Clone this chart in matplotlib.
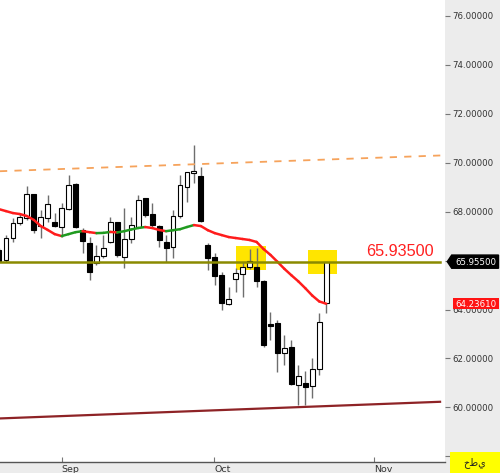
import matplotlib
matplotlib.use("Agg")
import matplotlib.pyplot as plt
import numpy as np
from matplotlib.collections import LineCollection
from matplotlib.patches import Rectangle, Polygon
import matplotlib.transforms as mtransforms

# ---------------- data ----------------
opens  = [66.43, 66.02, 66.92, 67.53, 67.74, 68.72, 67.41, 67.74, 67.57, 67.37,
          68.10, 69.13, 67.25, 66.72, 65.90, 66.18, 66.76, 67.57, 66.14, 66.88,
          67.37, 68.56, 67.90, 67.41, 66.76, 66.55, 67.82, 69.00, 69.58, 69.45,
          66.63, 66.14, 65.41, 64.22, 65.25, 65.45, 65.74, 65.74, 65.16, 63.40,
          63.45, 62.22, 62.46, 60.91, 60.99, 60.87, 61.57, 64.26]
highs  = [66.51, 67.04, 67.74, 67.94, 69.04, 68.72, 68.06, 68.68, 67.94, 68.35,
          69.49, 69.17, 67.33, 66.96, 66.63, 67.04, 67.78, 67.57, 68.14, 67.78,
          68.68, 68.56, 68.35, 67.45, 67.04, 68.06, 69.49, 69.62, 70.72, 69.82,
          66.72, 66.31, 65.53, 64.92, 65.69, 65.94, 66.47, 66.51, 65.20, 63.89,
          63.57, 62.96, 62.75, 61.73, 61.48, 62.01, 63.85, 65.955]
lows   = [65.94, 65.94, 66.76, 67.45, 67.66, 67.12, 66.92, 67.57, 67.37, 66.96,
          68.06, 67.33, 66.31, 65.20, 65.82, 66.10, 66.72, 66.14, 65.69, 66.72,
          67.33, 67.78, 67.33, 66.55, 65.94, 66.10, 67.74, 68.39, 69.17, 67.57,
          65.61, 65.00, 63.98, 64.18, 64.72, 64.52, 65.65, 64.92, 62.46, 62.75,
          61.44, 61.73, 60.91, 60.09, 60.09, 60.38, 61.32, 63.85]
closes = [65.98, 66.92, 67.53, 67.78, 68.72, 67.25, 67.78, 68.31, 67.41, 68.14,
          69.08, 67.37, 66.80, 65.53, 66.18, 66.51, 67.57, 66.23, 66.88, 67.45,
          68.47, 67.86, 67.45, 66.84, 66.51, 67.82, 69.08, 69.62, 69.66, 67.61,
          66.10, 65.37, 64.26, 64.43, 65.49, 65.74, 65.98, 65.16, 62.55, 63.32,
          62.22, 62.42, 60.95, 61.28, 60.83, 61.57, 63.49, 65.955]
ma_values = [68.10, 68.02, 67.94, 67.90, 67.82, 67.66, 67.41, 67.25, 67.08, 67.00,
             67.08, 67.16, 67.20, 67.16, 67.12, 67.13, 67.17, 67.15, 67.20, 67.27,
             67.33, 67.37, 67.33, 67.25, 67.20, 67.24, 67.28, 67.37, 67.45, 67.41,
             67.24, 67.12, 67.04, 66.96, 66.92, 66.88, 66.84, 66.76, 66.47, 66.23,
             65.95, 65.66, 65.40, 65.15, 64.87, 64.57, 64.33, 64.2361]

month_labels = ["Sep", "Oct", "Nov"]
month_pos = [9.0, 30.9, 53.9]

resistance_x = [0.14, 64.07]
resistance_y = [69.65, 70.30]
support_x = [0.14, 63.36]
support_y = [59.55, 60.23]
level_price = 65.955
level_text = "65.93500"
last_price = 65.955
ma_last = 64.2361
zone1 = (34.0, 65.63, 4.36, 0.98)   # x, y, width, height
zone2 = (44.35, 65.46, 4.15, 0.98)
scale_label = "خطي"

yticks = [58, 60, 62, 64, 66, 68, 70, 72, 74, 76]
hidden_ticks = [58, 66]   # covered by the scale box / last-price label

# ---------------- figure ----------------
W, H = 500, 473
fig = plt.figure(figsize=(W / 100, H / 100), dpi=100, facecolor="#ececec")
ax = fig.add_axes([0, 11 / H, 445 / W, 462 / H], facecolor="white")
ax.set_xlim(0.14, 64.07)
ax.set_ylim(57.77, 76.645)

idx = np.arange(len(opens))
o = np.array(opens); c = np.array(closes)
h = np.array(highs); l = np.array(lows)
up = c >= o

# zones
for z in (zone1, zone2):
    ax.add_patch(Rectangle((z[0], z[1]), z[2], z[3], facecolor="#ffe500",
                           edgecolor="none", zorder=1))

# wicks
ax.vlines(idx, l, h, color="#6e6e6e", lw=1.0, zorder=2)
# bodies
bw = 0.7
ax.bar(idx[up], (c - o)[up], bottom=o[up], width=bw, color="white",
       edgecolor="black", linewidth=0.8, zorder=3)
ax.bar(idx[~up], (o - c)[~up], bottom=c[~up], width=bw, color="black",
       edgecolor="black", linewidth=0.8, zorder=3)

# moving average, coloured by slope
ma = np.array(ma_values)
pts = np.column_stack([idx, ma])
segs = np.stack([pts[:-1], pts[1:]], axis=1)
cols = ["#1f9a1f" if ma[i + 1] > ma[i] else "#ff1c1c" for i in range(len(ma) - 1)]
ax.add_collection(LineCollection(segs, colors=cols, linewidths=1.8, zorder=4,
                                 capstyle="round", joinstyle="round"))

# trend lines
ax.plot(resistance_x, resistance_y, color="#f6a35c", lw=1.3,
        dashes=(4, 4), zorder=4)
ax.plot(support_x, support_y, color="#8e2326", lw=1.6, zorder=4)
ax.plot([support_x[0], support_x[1]], [level_price, level_price],
        color="#8a8a00", lw=1.8, zorder=5)

ax.text(52.8, level_price + 0.23, level_text, color="#ff2020",
        fontsize=11.7, family="Liberation Sans", ha="left", va="baseline",
        zorder=6)

# axes styling
for s in ("top", "left", "right"):
    ax.spines[s].set_visible(False)
ax.spines["bottom"].set_color("#555555")
ax.spines["bottom"].set_linewidth(1.0)

ax.yaxis.tick_right()
ax.set_yticks(yticks)
ax.set_yticklabels(["" if v in hidden_ticks else f"{v:.5f}" for v in yticks])
ax.tick_params(axis="y", direction="out", length=3.5, width=0.8,
               color="#777777", labelcolor="#333333", labelsize=6.2, pad=1.5)
ax.set_xticks(month_pos)
ax.set_xticklabels(month_labels)
ax.tick_params(axis="x", direction="in", length=3.5, width=0.8,
               color="#777777", labelcolor="#333333", labelsize=6.8, pad=2)
for t in ax.get_xticklabels():
    t.set_ha("left")

# price labels on right scale
trans = mtransforms.blended_transform_factory(ax.transAxes, ax.transData)
px = 1 / 445.0
hh = 6.6 / 24.47
poly = Polygon([(447.3 * px, last_price), (451.7 * px, last_price + hh),
                (498.5 * px, last_price + hh), (498.5 * px, last_price - hh),
                (451.7 * px, last_price - hh)], closed=True,
               facecolor="black", edgecolor="black", transform=trans,
               clip_on=False, zorder=7)
ax.add_patch(poly)
ax.text(475.5 * px, last_price, f"{last_price:.5f}", transform=trans,
        color="white", fontsize=6.2, ha="center", va="center_baseline",
        clip_on=False, zorder=8)

hr = 5.7 / 24.47
ax.add_patch(Rectangle((452.7 * px, ma_last - hr), 45.8 * px, 2 * hr,
                       facecolor="#ff1414", edgecolor="none", transform=trans,
                       clip_on=False, zorder=7))
ax.text(475.6 * px, ma_last, f"{ma_last:.5f}", transform=trans,
        color="white", fontsize=6.2, ha="center", va="center_baseline",
        clip_on=False, zorder=8)

# scale-mode box bottom right
fig.patches.append(Rectangle((450 / W, 0), 50 / W, 21 / H, facecolor="#ffff00",
                             edgecolor="none", transform=fig.transFigure,
                             zorder=5))
fig.text(475 / W, 10.5 / H, scale_label, fontsize=7, family="DejaVu Sans",
         ha="center", va="center", color="#222222", zorder=6)

fig.savefig("out.png", dpi=100, facecolor=fig.get_facecolor())
